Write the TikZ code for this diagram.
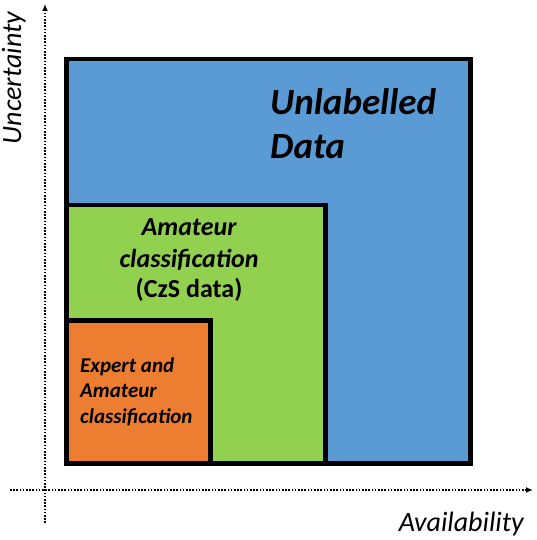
\documentclass[tikz,border=0pt]{standalone}
\usepackage{fontspec}
\setmainfont{Carlito}
\usetikzlibrary{arrows.meta}
\definecolor{cblue}{HTML}{5B9BD5}
\definecolor{cgreen}{HTML}{92D050}
\definecolor{corange}{HTML}{ED7D31}
\tikzset{
  setbox/.style={draw=black,line width=4.6pt},
  axis/.style={line width=1.4pt,dash pattern=on 1.6pt off 1.6pt,-{Latex[length=7pt,width=6pt]}},
  txt/.style={inner sep=0pt,anchor=base},
  axlabel/.style={inner sep=0pt,font=\fontsize{28}{32}\selectfont\itshape},
}
\begin{document}
\begin{tikzpicture}[x=1pt,y=-1pt]
\useasboundingbox (0,0) rectangle (536,540);
% sets
\draw[setbox,fill=cblue] (66.5,59) rectangle (470.5,463.5);
\draw[setbox,fill=cgreen] (66.5,205) rectangle (325.5,463.5);
\draw[setbox,fill=corange] (66.5,320.5) rectangle (210.5,463.5);
% labels
\node[txt,anchor=base west,font=\fontsize{37}{43}\selectfont\bfseries\itshape] (u1) at (270,115) {Unlabelled};
\node[txt,anchor=base west,font=\fontsize{37}{43}\selectfont\bfseries\itshape] (u2) at (270,158) {Data};
\node[txt,font=\fontsize{26}{31}\selectfont\bfseries\itshape] (g1) at (189,235) {Amateur};
\node[txt,font=\fontsize{26}{31}\selectfont\bfseries\itshape] (g2) at (189,267) {classification};
\node[txt,font=\fontsize{26}{31}\selectfont\bfseries] (g3) at (189,297) {(CzS data)};
\node[txt,anchor=base west,font=\fontsize{21}{25}\selectfont\bfseries\itshape] (o1) at (80,372) {Expert and};
\node[txt,anchor=base west,font=\fontsize{21}{25}\selectfont\bfseries\itshape] (o2) at (80,397) {Amateur};
\node[txt,anchor=base west,font=\fontsize{21}{25}\selectfont\bfseries\itshape] (o3) at (80,423) {classification};
% axes
\coordinate (yS) at (45,523);
\coordinate (yE) at (45,4);
\coordinate (xS) at (10,490);
\coordinate (xE) at (533,490);
\draw[axis] (yS) -- (yE);
\draw[axis] (xS) -- (xE);
\node[axlabel,anchor=base east] (xl) at (524,531) {Availability};
\node[axlabel,anchor=base,rotate=90] (yl) at (21,78) {Uncertainty};
\end{tikzpicture}
\end{document}
